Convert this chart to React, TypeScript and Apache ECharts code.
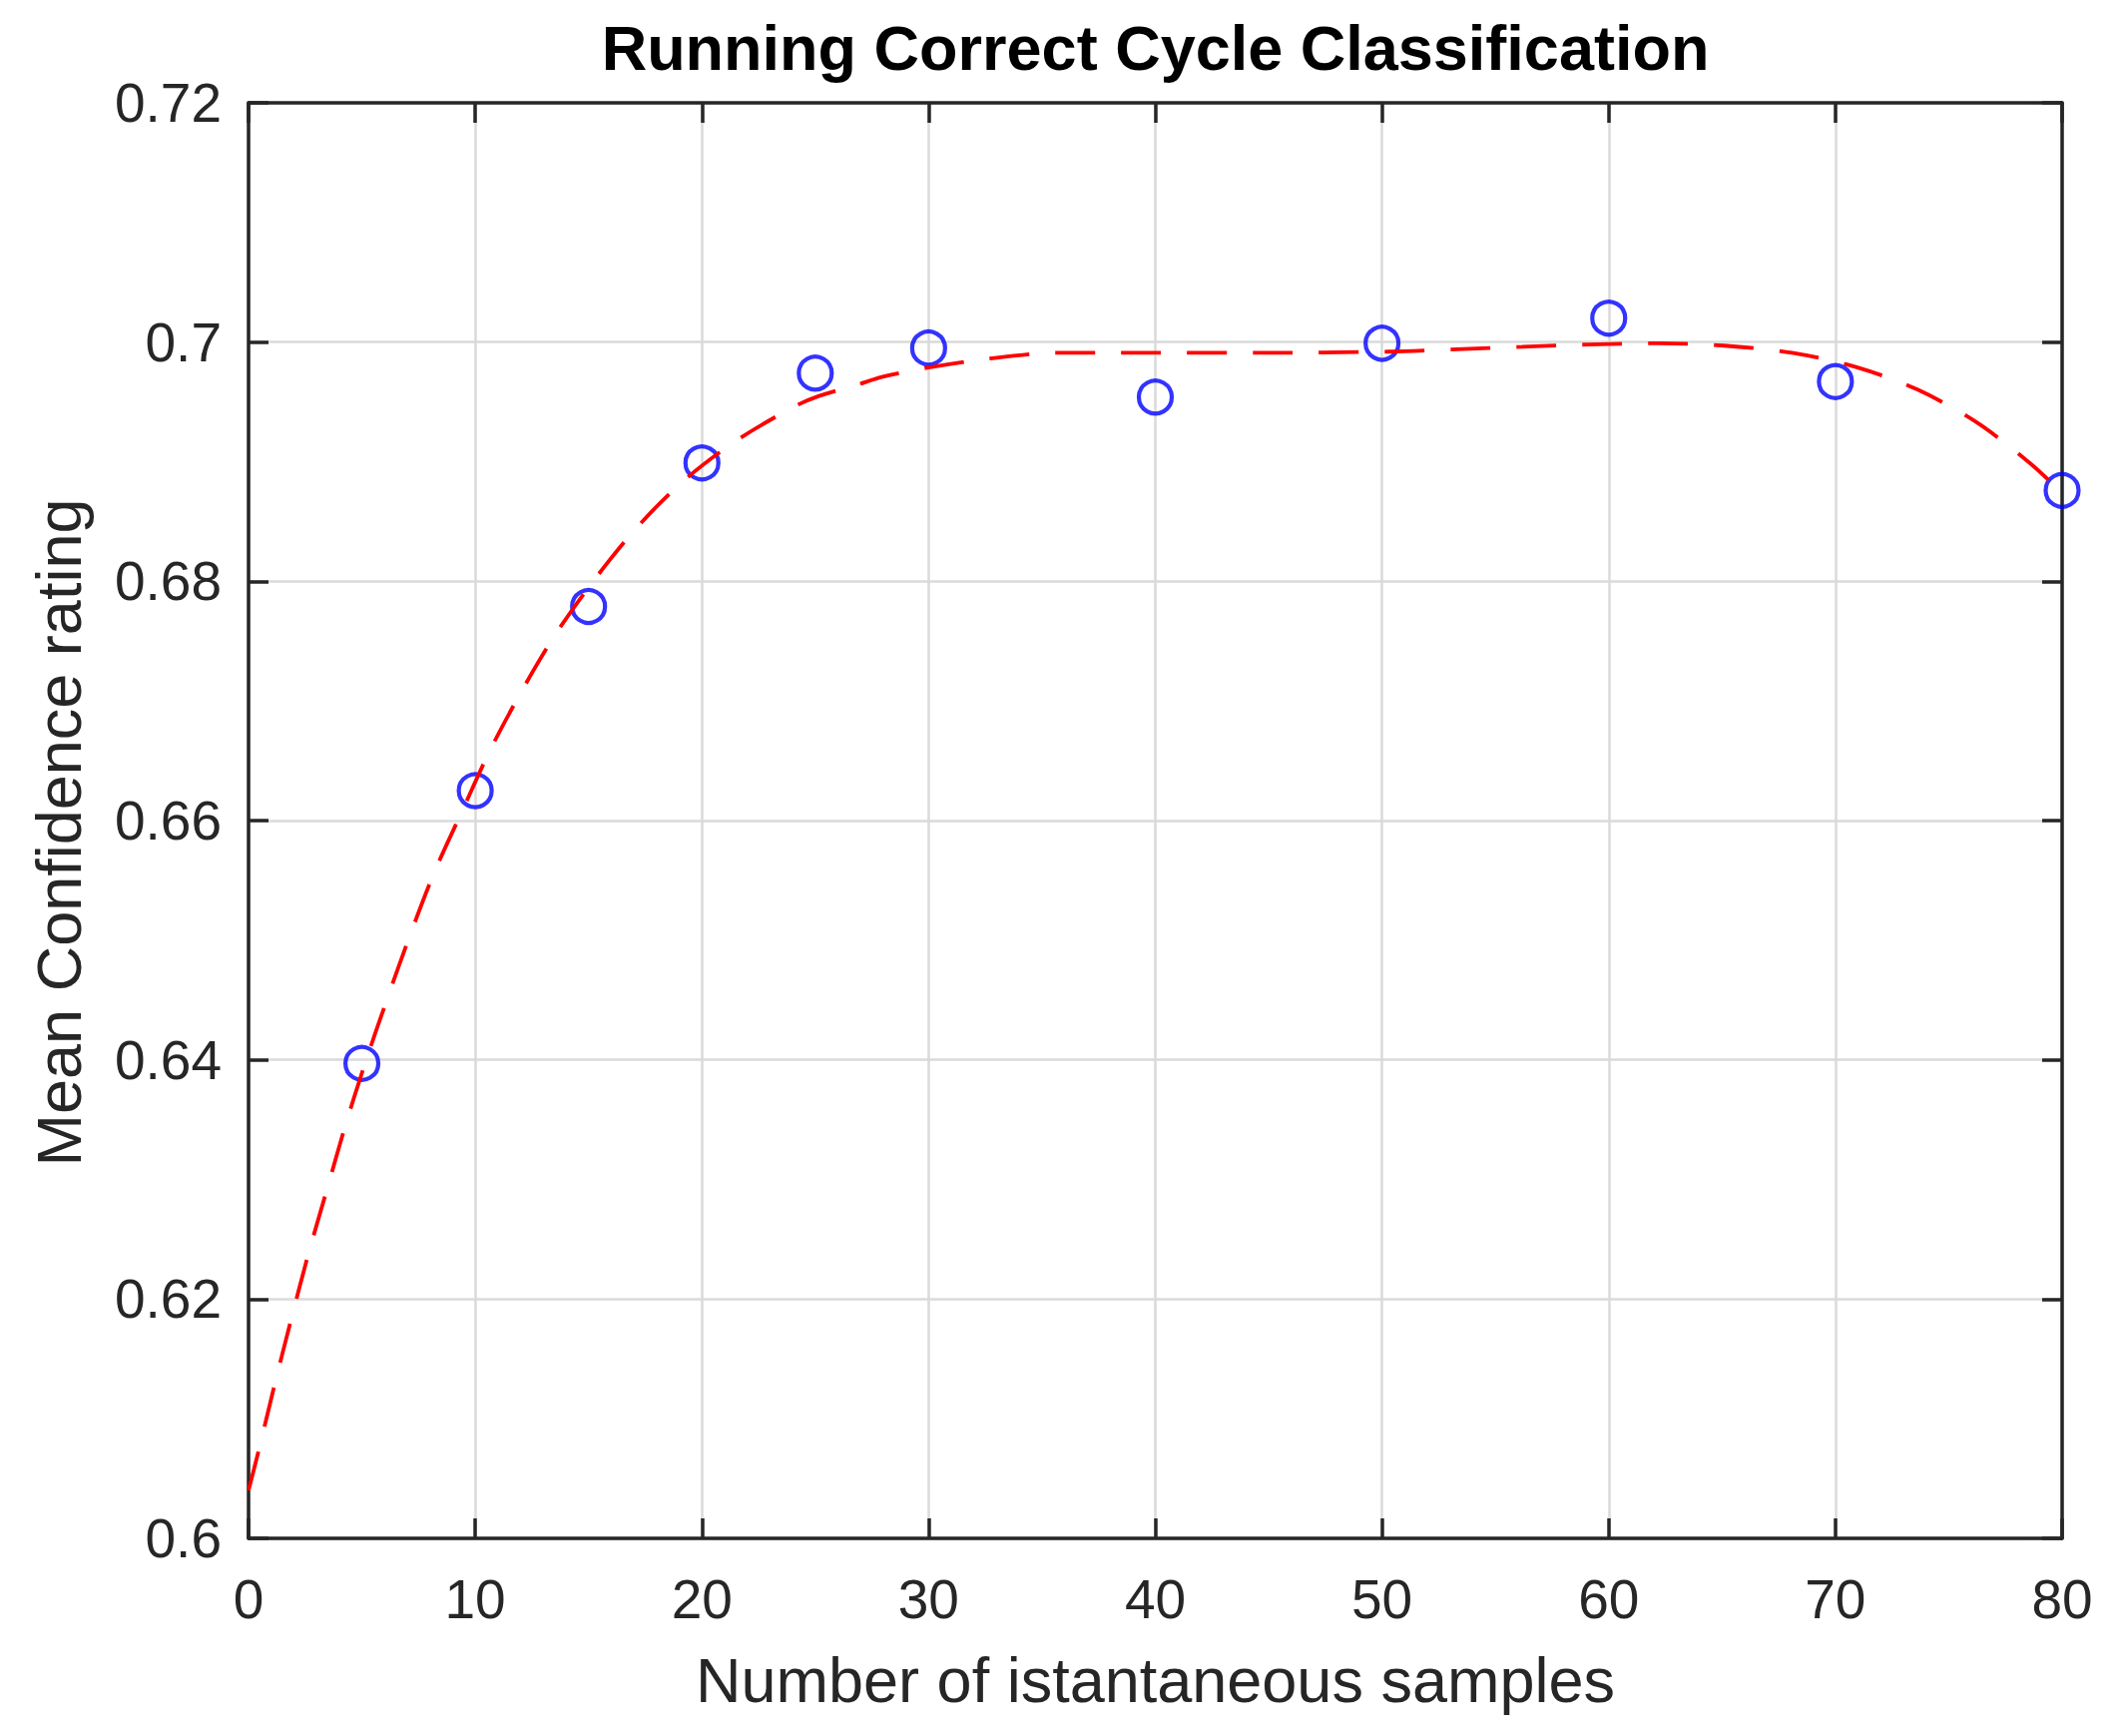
import React, { useEffect, useRef } from "react";
import * as echarts from "echarts";

const FONT = "'Liberation Sans', Arial, Helvetica, sans-serif";

const titleText = "Running Correct Cycle Classification";
const xAxisName = "Number of istantaneous samples";
const yAxisName = "Mean Confidence rating";

// Measured points (blue circles)
const sampleCounts = [5, 10, 15, 20, 25, 30, 40, 50, 60, 70, 80];
const meanConfidence = [0.6397, 0.6625, 0.6779, 0.6899, 0.6974, 0.6995, 0.6954, 0.6999, 0.702, 0.6967, 0.6876];

// Fitted curve (red dashed)
const fitX = [0, 0.455, 1.145, 1.88, 2.63, 3.45, 4.27, 5.14, 6.1, 7.12, 8.2, 9.4, 10.66, 12.04, 13.55, 15.24, 17.13, 19.19, 21.55, 24.07, 25.17, 26.8, 27.98, 30.07, 32.6, 35.64, 38.5, 44.5, 50.3, 53.3, 56.2, 59.1, 62.2, 65.1, 68.08, 70.94, 73.65, 76.22, 78.57, 80];
const fitY = [0.604, 0.6074, 0.6128, 0.6183, 0.6237, 0.6291, 0.6345, 0.6397, 0.645, 0.6504, 0.6557, 0.6607, 0.6659, 0.6708, 0.6756, 0.6801, 0.6845, 0.6884, 0.6918, 0.6946, 0.6955, 0.6964, 0.6971, 0.6979, 0.6986, 0.6991, 0.6991, 0.6991, 0.6992, 0.6994, 0.6996, 0.6998, 0.6999, 0.6997, 0.6991, 0.6979, 0.696, 0.6933, 0.6899, 0.6874];

const X_MIN = 0, X_MAX = 80, X_STEP = 10;
const Y_MIN = 0.6, Y_MAX = 0.72, Y_STEP = 0.02;

export default function App() {
  const ref = useRef<HTMLDivElement>(null);
  useEffect(() => {
    if (!ref.current) return;
    const chart = echarts.init(ref.current, undefined, { renderer: "svg" });
    const axisColor = "#262626";
    const gridColor = "#dadada";
    const lineStyle = { color: axisColor, width: 3.5 };
    const tick = { show: true, inside: true, length: 20, lineStyle: { color: axisColor, width: 3.5 } };
    const yFmt = (v: number) => String(Math.round(v * 100) / 100);
    chart.setOption({
      animation: false,
      backgroundColor: "#ffffff",
      title: {
        text: titleText,
        left: 1157.5,
        top: 16,
        textAlign: "center",
        padding: 0,
        textStyle: { fontFamily: FONT, fontSize: 63, fontWeight: "bold", color: "#000000" },
      },
      grid: { left: 249, top: 103, right: 58, bottom: 198, containLabel: false },
      xAxis: [
        {
          type: "value",
          position: "bottom",
          min: X_MIN,
          max: X_MAX,
          interval: X_STEP,
          name: xAxisName,
          nameLocation: "middle",
          nameGap: 110,
          nameTextStyle: { fontFamily: FONT, fontSize: 63, color: axisColor },
          axisLine: { show: true, onZero: false, lineStyle },
          axisTick: tick,
          axisLabel: { fontFamily: FONT, fontSize: 55, color: axisColor, margin: 33 },
          splitLine: { show: true, lineStyle: { color: gridColor, width: 2.5 } },
        },
        {
          type: "value",
          position: "top",
          min: X_MIN,
          max: X_MAX,
          interval: X_STEP,
          axisLine: { show: true, onZero: false, lineStyle },
          axisTick: tick,
          axisLabel: { show: false },
          splitLine: { show: false },
        },
      ],
      yAxis: [
        {
          type: "value",
          position: "left",
          min: Y_MIN,
          max: Y_MAX,
          interval: Y_STEP,
          name: yAxisName,
          nameLocation: "middle",
          nameGap: 159,
          nameTextStyle: { fontFamily: FONT, fontSize: 63, color: axisColor, padding: [0, 24, 0, 0] },
          axisLine: { show: true, onZero: false, lineStyle },
          axisTick: tick,
          axisLabel: { fontFamily: FONT, fontSize: 55, color: axisColor, margin: 27, formatter: yFmt },
          splitLine: { show: true, lineStyle: { color: gridColor, width: 2.5 } },
        },
        {
          type: "value",
          position: "right",
          min: Y_MIN,
          max: Y_MAX,
          interval: Y_STEP,
          axisLine: { show: true, onZero: false, lineStyle },
          axisTick: tick,
          axisLabel: { show: false },
          splitLine: { show: false },
        },
      ],
      series: [
        {
          type: "scatter",
          xAxisIndex: 0,
          yAxisIndex: 0,
          data: sampleCounts.map((x, i) => [x, meanConfidence[i]]),
          symbol: "circle",
          symbolSize: 33,
          clip: false,
          itemStyle: { color: "rgba(0,0,0,0)", borderColor: "#0000ff", borderWidth: 4.2 },
          z: 3,
        },
        {
          type: "line",
          xAxisIndex: 0,
          yAxisIndex: 0,
          data: fitX.map((x, i) => [x, fitY[i]]),
          showSymbol: false,
          symbol: "none",
          smooth: 0.3,
          lineStyle: { color: "#ff0000", width: 3.8, type: [40, 26], cap: "butt" },
          z: 4,
        },
      ],
    });
    return () => chart.dispose();
  }, []);
  return (
    <div
      ref={ref}
      style={{ position: "fixed", left: 0, top: 0, width: 2124, height: 1739, background: "#fff" }}
    />
  );
}
